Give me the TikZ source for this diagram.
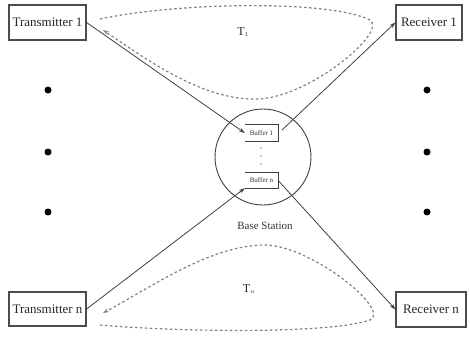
\documentclass[tikz,border=0pt]{standalone}
\usepackage{fontspec}
\setmainfont{Liberation Serif}
\usetikzlibrary{arrows.meta}
\begin{document}
\begin{tikzpicture}[x=1pt,y=-1pt,
  endbox/.style={draw=black!70,line width=1.2pt,inner sep=0pt,font=\fontsize{13}{14}\selectfont,text=black!85},
  link/.style={draw=black!75,line width=0.8pt,-{Stealth[length=6pt,width=4pt]}},
  loop/.style={draw=black!50,line width=1.2pt,dash pattern=on 2.5pt off 2.5pt,-{Stealth[length=6pt,width=4pt]}},
  bigdot/.style={circle,fill=black,inner sep=0pt,minimum size=7pt},
  smalldot/.style={circle,fill=black!45,inner sep=0pt,minimum size=1.8pt},
  buf/.style={font=\fontsize{7}{8}\selectfont,text=black!80,inner sep=0pt}]
\useasboundingbox (0,0) rectangle (470,345);
\node[endbox,minimum width=77pt,minimum height=35pt] (t1) at (47.5,22.5) {Transmitter 1};
\node[endbox,minimum width=66pt,minimum height=35pt] (r1) at (429,22.5) {Receiver 1};
\node[endbox,minimum width=77pt,minimum height=34pt] (tn) at (47.5,309) {Transmitter n};
\node[endbox,minimum width=70pt,minimum height=35pt] (rn) at (431,309.5) {Receiver n};
\node[draw=black!75,line width=0.9pt,circle,minimum size=96pt,inner sep=0pt] (bs) at (263,157) {};
\node[font=\fontsize{11}{12}\selectfont,text=black!80] (bslabel) at (265,226) {Base Station};
% buffers
\node[buf,minimum width=33pt,minimum height=16pt] (b1) at (261.5,133) {Buffer 1};
\draw[black!75,line width=0.8pt] (b1.north west) -- (b1.north east) -- (b1.south east) -- (b1.south west);
\node[buf,minimum width=33pt,minimum height=15pt] (bn) at (261.5,180.5) {Buffer n};
\draw[black!75,line width=0.8pt] (bn.north west) -- (bn.north east) -- (bn.south east) -- (bn.south west);
\node[smalldot] (v1) at (261,148) {};
\node[smalldot] (v2) at (261,156) {};
\node[smalldot] (v3) at (261,164) {};
% dots
\foreach \y/\n in {90/a,152/b,212/c}{
  \node[bigdot] (l\n) at (48,\y) {};
  \node[bigdot] (r\n) at (427,\y) {};
}
% links
\draw[link] (t1.east) -- (b1.west);
\coordinate (b1o) at (282,130);
\draw[link] (b1o) -- (r1.west);
\draw[link] (tn.east) -- (bn.south west);
\draw[link] (bn.east) -- (rn.west);
% loops
\coordinate (s1) at (100,19);
\coordinate (e1) at (103,30);
\draw[loop] (s1) .. controls (180,2) and (330,0) .. (370,20) .. controls (388,32) and (310,97) .. (258,99) .. controls (205,101) and (150,62) .. (e1);
\coordinate (sn) at (100,325);
\coordinate (en) at (103,313);
\draw[loop] (sn) .. controls (180,332) and (330,334) .. (370,320) .. controls (392,310) and (310,245) .. (265,245) .. controls (210,245) and (150,288) .. (en);
\node[font=\fontsize{12}{13}\selectfont,text=black!85] (T1) at (243,32) {T$_{\scriptscriptstyle 1}$};
\node[font=\fontsize{12}{13}\selectfont,text=black!85] (Tn) at (249,289) {T$_{\scriptscriptstyle n}$};
\end{tikzpicture}
\end{document}
